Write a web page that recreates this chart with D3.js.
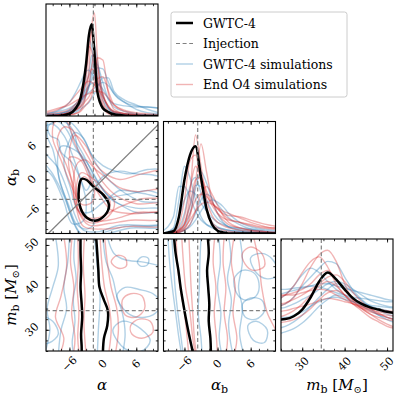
<!DOCTYPE html>
<html>
<head>
<meta charset="utf-8">
<script src="https://cdn.jsdelivr.net/npm/d3@7"></script>
<style>
body { margin: 0; background: #fff; }
text { font-family: "DejaVu Serif", serif; fill: #000; }
</style>
</head>
<body>
<div id="chart"></div>
<script>
// axis ranges, injection values, ticks
const alphaRange = [-10.2, 9.9];
const alphaBRange = [-9.8, 10.5];
const mbRange = [25, 51.4];
const injAlpha = -1.7, injAlphaB = -3.6, injMb = 34.5;
const alphaMajor = [-6, 0, 6];
const alphaBMajor = [-6, 0, 6];
const mbMajor = [30, 40, 50];
const tickLabelsA = ["\u22126", "0", "6"];
const tickLabelsM = ["30", "40", "50"];

// 1D marginals: alpha
const gridAlpha = [-10, -8, -6, -5, -4, -3, -2.5, -2, -1.5, -1, 0, 1, 2, 4, 6, 8, 10];
const alphaBlack = [0, 0, 0.02, 0.06, 0.16, 0.47, 0.72, 0.82, 0.56, 0.22, 0.07, 0.035, 0.015, 0.003, 0, 0, 0];
const alphaBlue = [
  [0.01, 0.02, 0.05, 0.08, 0.13, 0.22, 0.27, 0.32, 0.38, 0.43, 0.42, 0.3, 0.2, 0.12, 0.09, 0.08, 0.07],
  [0, 0.01, 0.03, 0.06, 0.12, 0.28, 0.38, 0.54, 0.52, 0.4, 0.18, 0.08, 0.04, 0.02, 0.01, 0.01, 0],
  [0, 0, 0.02, 0.05, 0.12, 0.38, 0.68, 0.62, 0.42, 0.26, 0.09, 0.04, 0.02, 0.01, 0, 0, 0],
  [0.02, 0.04, 0.07, 0.1, 0.14, 0.19, 0.21, 0.23, 0.25, 0.27, 0.3, 0.27, 0.2, 0.12, 0.06, 0.03, 0.02],
  [0.01, 0.02, 0.04, 0.07, 0.12, 0.2, 0.26, 0.36, 0.48, 0.46, 0.3, 0.15, 0.08, 0.04, 0.02, 0.01, 0.01],
  [0, 0.01, 0.02, 0.03, 0.06, 0.1, 0.12, 0.16, 0.2, 0.25, 0.34, 0.34, 0.22, 0.14, 0.1, 0.06, 0.03],
  [0.02, 0.05, 0.12, 0.2, 0.3, 0.4, 0.41, 0.38, 0.34, 0.28, 0.14, 0.06, 0.03, 0.01, 0, 0, 0],
  [0, 0.01, 0.02, 0.04, 0.08, 0.18, 0.26, 0.45, 0.62, 0.5, 0.2, 0.07, 0.03, 0.02, 0.01, 0, 0],
  [0.01, 0.02, 0.05, 0.1, 0.16, 0.24, 0.27, 0.29, 0.3, 0.29, 0.24, 0.15, 0.11, 0.09, 0.08, 0.08, 0.07]
];
const alphaRed = [
  [0, 0, 0.01, 0.02, 0.05, 0.2, 0.42, 0.8, 0.92, 0.55, 0.14, 0.04, 0.01, 0, 0, 0, 0],
  [0, 0, 0.01, 0.02, 0.04, 0.1, 0.13, 0.18, 0.3, 0.52, 0.5, 0.2, 0.06, 0.02, 0.01, 0, 0],
  [0, 0.01, 0.02, 0.05, 0.12, 0.35, 0.6, 0.75, 0.62, 0.35, 0.1, 0.03, 0.01, 0, 0, 0, 0],
  [0.03, 0.06, 0.12, 0.18, 0.24, 0.3, 0.31, 0.3, 0.28, 0.25, 0.17, 0.09, 0.04, 0.02, 0.01, 0, 0],
  [0.02, 0.03, 0.06, 0.1, 0.17, 0.3, 0.36, 0.42, 0.4, 0.34, 0.18, 0.08, 0.04, 0.02, 0.01, 0, 0],
  [0, 0.01, 0.03, 0.05, 0.09, 0.2, 0.28, 0.44, 0.55, 0.45, 0.2, 0.08, 0.03, 0.01, 0, 0, 0],
  [0.01, 0.01, 0.03, 0.05, 0.08, 0.14, 0.17, 0.22, 0.28, 0.33, 0.35, 0.22, 0.1, 0.04, 0.02, 0.01, 0],
  [0, 0.01, 0.04, 0.08, 0.16, 0.42, 0.62, 0.58, 0.4, 0.24, 0.08, 0.02, 0.01, 0, 0, 0, 0],
  [0.04, 0.07, 0.1, 0.13, 0.16, 0.19, 0.2, 0.21, 0.22, 0.22, 0.21, 0.16, 0.1, 0.05, 0.03, 0.02, 0.01]
];

// 1D marginals: alpha_b
const gridAlphaB = [-10, -8, -7, -6, -5, -4, -3, -2, -1, 0, 1, 2, 4, 6, 8, 10, 11];
const alphaBBlack = [0, 0.02, 0.15, 0.48, 0.7, 0.78, 0.5, 0.22, 0.08, 0.025, 0.01, 0, 0, 0, 0, 0, 0];
const alphaBBlue = [
  [0, 0.05, 0.3, 0.6, 0.5, 0.3, 0.15, 0.08, 0.05, 0.03, 0.02, 0.02, 0.01, 0.01, 0, 0, 0],
  [0.02, 0.15, 0.42, 0.42, 0.32, 0.2, 0.12, 0.08, 0.06, 0.05, 0.04, 0.03, 0.02, 0.01, 0.01, 0, 0],
  [0, 0, 0.02, 0.06, 0.18, 0.4, 0.55, 0.45, 0.3, 0.18, 0.1, 0.06, 0.03, 0.02, 0.01, 0, 0],
  [0, 0, 0.01, 0.03, 0.08, 0.18, 0.3, 0.35, 0.32, 0.26, 0.2, 0.14, 0.08, 0.04, 0.02, 0.01, 0.01],
  [0, 0.01, 0.03, 0.1, 0.25, 0.43, 0.42, 0.3, 0.2, 0.13, 0.09, 0.06, 0.04, 0.03, 0.02, 0.01, 0.01],
  [0, 0, 0.01, 0.03, 0.06, 0.12, 0.2, 0.27, 0.3, 0.28, 0.24, 0.18, 0.1, 0.06, 0.04, 0.03, 0.03],
  [0, 0.02, 0.06, 0.18, 0.42, 0.5, 0.36, 0.2, 0.1, 0.06, 0.04, 0.03, 0.02, 0.01, 0.01, 0, 0],
  [0, 0.04, 0.15, 0.3, 0.38, 0.35, 0.27, 0.2, 0.14, 0.1, 0.08, 0.06, 0.05, 0.04, 0.03, 0.02, 0.02]
];
const alphaBRed = [
  [0, 0, 0.02, 0.08, 0.35, 0.88, 0.6, 0.3, 0.16, 0.1, 0.07, 0.05, 0.03, 0.02, 0.01, 0.01, 0.01],
  [0, 0, 0.01, 0.04, 0.15, 0.45, 0.8, 0.55, 0.3, 0.18, 0.12, 0.08, 0.05, 0.03, 0.02, 0.01, 0.01],
  [0, 0.01, 0.04, 0.15, 0.4, 0.6, 0.5, 0.35, 0.25, 0.18, 0.14, 0.12, 0.1, 0.08, 0.06, 0.05, 0.05],
  [0, 0.01, 0.03, 0.08, 0.25, 0.48, 0.5, 0.38, 0.28, 0.22, 0.18, 0.16, 0.15, 0.12, 0.09, 0.07, 0.06],
  [0, 0.02, 0.08, 0.3, 0.65, 0.7, 0.45, 0.22, 0.1, 0.05, 0.03, 0.02, 0.01, 0, 0, 0, 0],
  [0, 0.01, 0.03, 0.08, 0.18, 0.3, 0.35, 0.33, 0.27, 0.22, 0.17, 0.13, 0.1, 0.07, 0.05, 0.04, 0.04],
  [0, 0, 0.01, 0.03, 0.08, 0.2, 0.35, 0.42, 0.35, 0.25, 0.16, 0.1, 0.05, 0.03, 0.02, 0.01, 0.01],
  [0, 0, 0.02, 0.05, 0.12, 0.2, 0.26, 0.28, 0.26, 0.23, 0.2, 0.18, 0.14, 0.1, 0.07, 0.05, 0.05]
];

// 1D marginals: m_b
const gridMb = [24, 26, 28, 30, 32, 34, 36, 38, 40, 42, 44, 46, 48, 50, 52];
const mbBlack = [0.28, 0.285, 0.31, 0.37, 0.48, 0.62, 0.7, 0.64, 0.55, 0.47, 0.42, 0.39, 0.37, 0.35, 0.34];
const mbBlue = [
  [0.4, 0.42, 0.48, 0.58, 0.66, 0.74, 0.8, 0.78, 0.66, 0.54, 0.46, 0.4, 0.36, 0.33, 0.31],
  [0.46, 0.5, 0.58, 0.68, 0.74, 0.7, 0.62, 0.55, 0.5, 0.46, 0.43, 0.41, 0.4, 0.39, 0.38],
  [0.5, 0.52, 0.54, 0.56, 0.58, 0.6, 0.6, 0.58, 0.56, 0.54, 0.52, 0.5, 0.48, 0.46, 0.45],
  [0.2, 0.22, 0.26, 0.32, 0.4, 0.48, 0.55, 0.6, 0.58, 0.52, 0.45, 0.38, 0.32, 0.28, 0.25],
  [0.38, 0.39, 0.42, 0.46, 0.5, 0.55, 0.6, 0.62, 0.6, 0.55, 0.5, 0.45, 0.42, 0.4, 0.39],
  [0.3, 0.3, 0.32, 0.35, 0.4, 0.44, 0.47, 0.48, 0.46, 0.44, 0.42, 0.4, 0.38, 0.36, 0.34],
  [0.55, 0.55, 0.56, 0.57, 0.58, 0.57, 0.55, 0.52, 0.5, 0.48, 0.47, 0.46, 0.45, 0.44, 0.44],
  [0.15, 0.17, 0.2, 0.25, 0.32, 0.4, 0.46, 0.5, 0.48, 0.44, 0.4, 0.36, 0.32, 0.3, 0.28]
];
const mbRed = [
  [0.4, 0.42, 0.48, 0.6, 0.75, 0.86, 0.9, 0.8, 0.6, 0.45, 0.38, 0.33, 0.3, 0.28, 0.27],
  [0.45, 0.5, 0.58, 0.7, 0.8, 0.84, 0.75, 0.6, 0.5, 0.42, 0.38, 0.35, 0.33, 0.32, 0.31],
  [0.3, 0.32, 0.36, 0.42, 0.5, 0.58, 0.62, 0.58, 0.5, 0.42, 0.36, 0.3, 0.26, 0.22, 0.2],
  [0.5, 0.5, 0.5, 0.52, 0.54, 0.55, 0.54, 0.5, 0.46, 0.42, 0.4, 0.38, 0.37, 0.36, 0.35],
  [0.25, 0.26, 0.28, 0.32, 0.38, 0.46, 0.52, 0.54, 0.5, 0.44, 0.38, 0.33, 0.28, 0.24, 0.21],
  [0.42, 0.43, 0.46, 0.5, 0.55, 0.6, 0.66, 0.68, 0.62, 0.52, 0.44, 0.38, 0.34, 0.3, 0.28],
  [0.35, 0.36, 0.38, 0.4, 0.42, 0.45, 0.47, 0.46, 0.44, 0.42, 0.39, 0.36, 0.33, 0.3, 0.28],
  [0.48, 0.5, 0.52, 0.55, 0.6, 0.68, 0.72, 0.64, 0.54, 0.46, 0.4, 0.37, 0.35, 0.34, 0.34]
];

// 2D contours: alpha (x) vs alpha_b (y), closed loops
const aAbBlack = [[-3.8, 0.1], [-4.3, -1.6], [-4.0, -5.2], [-2.8, -7.0], [-1.4, -7.5], [0.4, -6.45], [1.1, -4.6], [0.1, -2.8], [-1.7, -1.3], [-2.9, -0.1]];
const aAbRed = [
  [[-3.4, 0.5], [-4.2, -1.8], [-3.8, -5.4], [-2.4, -7.2], [-0.8, -7.3], [0.9, -5.8], [1.3, -4.0], [0.0, -2.5], [-1.8, -0.8]],
  [[-3.9, 1.2], [-4.8, -2.0], [-4.3, -5.8], [-2.5, -7.8], [-0.2, -7.5], [1.8, -5.6], [2.0, -3.8], [0.5, -2.2], [-1.6, 0.0]],
  [[-7.0, 9.5], [-8.2, 7.0], [-6.5, 2.5], [-5.0, -2.0], [-4.3, -6.0], [-2.5, -8.3], [1.0, -8.0], [5.0, -7.4], [11, -7.0], [11, -4.5], [6.0, -4.4], [2.5, -3.0], [0.0, -0.5], [-2.0, 3.0], [-4.0, 6.5], [-5.5, 9.0]],
  [[-5.0, 8.0], [-6.0, 5.0], [-5.2, 1.0], [-4.6, -3.0], [-3.5, -6.5], [-1.0, -7.0], [3.0, -5.0], [7.0, -3.5], [11, -3.0], [11, 1.5], [7.0, 1.0], [3.0, 0.0], [0.5, 1.0], [-1.5, 3.0], [-3.0, 6.0]],
  [[-6.0, 4.0], [-5.5, -1.0], [-4.8, -5.0], [-3.5, -8.5], [0.0, -9.0], [5.0, -8.5], [11, -8.3], [11, -6.2], [5.0, -6.2], [1.5, -5.5], [-0.5, -3.0], [-2.5, 0.5], [-4.0, 3.5]],
  [[-8.5, 10.5], [-9.0, 7.5], [-7.5, 3.5], [-5.5, -1.5], [-3.8, -4.5], [-2.0, -4.2], [-1.5, -1.5], [-3.0, 2.5], [-5.0, 6.5], [-6.5, 10.5]],
  [[-4.5, 3.0], [-5.3, -1.5], [-4.5, -5.5], [-2.0, -7.5], [2.0, -7.2], [6.0, -6.0], [11, -5.5], [11, -2.0], [6.0, -2.2], [3.0, -1.5], [1.0, 0.0], [-1.5, 2.0], [-3.0, 3.5]]
];
const aAbBlue = [
  [[-11, 11], [-11, 4.0], [-9.0, 1.0], [-7.0, -3.0], [-5.5, -7.0], [-4.0, -9.8], [-2.0, -10.5], [1.0, -9.8], [5.0, -8.8], [11, -8.5], [11, -6.3], [6.0, -6.0], [3.0, -4.5], [0.5, -2.5], [-1.5, 0.5], [-3.5, 4.5], [-5.5, 8.0], [-7.0, 11]],
  [[-10.5, 11], [-11, 6.0], [-8.0, 2.0], [-6.2, -2.5], [-5.0, -6.5], [-3.5, -9.2], [-1.0, -9.5], [3.0, -8.3], [11, -7.8], [11, -4.5], [7.0, -4.0], [4.0, -2.5], [1.5, -0.5], [-1.0, 2.5], [-3.0, 6.5], [-4.5, 9.0], [-6.0, 10.5], [-8.5, 11]],
  [[-9.5, 10.0], [-10.0, 8.0], [-9.0, 5.5], [-8.3, 2.5], [-7.5, -1.0], [-6.0, -5.0], [-4.8, -8.0], [-3.0, -9.0], [-1.5, -8.0], [-2.0, -5.5], [-1.8, -2.5], [0.0, 0.5], [3.0, 1.5], [6.0, 1.0], [9.0, 0.8], [11, 0.0], [11, -3.0], [7.0, -2.5], [3.0, -2.0], [0.5, -3.5], [-1.0, -1.0], [-3.0, 2.5], [-5.0, 6.0], [-6.5, 9.0], [-8.0, 10.5]],
  [[-6.0, 7.0], [-7.0, 3.0], [-5.8, -1.5], [-4.5, -5.5], [-2.5, -6.0], [1.0, -3.5], [5.0, -2.6], [8.0, -2.0], [11, -2.5], [11, 1.5], [8.0, 1.8], [5.0, 1.0], [2.0, 1.6], [0.0, 2.5], [-2.0, 4.5], [-3.5, 7.5], [-5.0, 8.5]],
  [[-7.5, 6.0], [-8.0, 1.0], [-6.5, -4.0], [-4.5, -9.3], [-2.5, -10.5], [0.5, -9.5], [4.0, -8.5], [11, -8.0], [11, -5.5], [6.0, -5.2], [2.0, -4.0], [-0.5, -1.0], [-2.5, 2.5], [-4.5, 5.0]],
  [[-11, 3.0], [-9.0, 0.5], [-7.0, -4.0], [-5.5, -8.0], [-3.5, -7.5], [-3.0, -4.0], [-4.0, 0.0], [-5.5, 4.5], [-7.0, 8.0], [-9.0, 10.0], [-11, 9.0]],
  [[-9.8, 10.5], [-9.5, 8.0], [-8.0, 7.2], [-7.5, 5.0], [-5.5, 3.0], [-4.2, 0.5], [-3.0, -2.0], [-2.2, -0.5], [-3.0, 2.5], [-4.5, 5.5], [-5.0, 8.0], [-6.0, 9.8], [-8.0, 10.8]]
];

// 2D contours: alpha (x) vs m_b (y); open lines and small loops
const aMbBlack = [
  [[-4.0, 52], [-4.0, 48], [-3.9, 44], [-4.0, 40], [-3.8, 36], [-3.7, 33], [-3.9, 29], [-3.8, 26], [-3.8, 24]],
  [[-1.2, 52], [-1.0, 48], [-0.8, 44], [-0.6, 40], [0.2, 37], [0.9, 34.5], [0.8, 31], [0.2, 28], [0.0, 24]]
];
const aMbRedLines = [
  [[-4.5, 52], [-4.4, 46], [-4.6, 40], [-4.3, 34], [-4.5, 28], [-4.2, 24]],
  [[-5.5, 52], [-5.8, 46], [-5.2, 40], [-5.6, 34], [-5.0, 28], [-5.3, 24]],
  [[-7.0, 52], [-6.5, 45], [-7.5, 38], [-8.5, 33], [-7.0, 28], [-7.8, 24]],
  [[-0.5, 52], [-0.2, 46], [0.3, 40], [1.2, 35], [1.5, 30], [1.0, 24]],
  [[0.3, 52], [0.8, 46], [1.5, 40], [2.5, 35], [2.8, 30], [2.2, 24]],
  [[-3.3, 52], [-3.5, 45], [-3.2, 38], [-3.4, 32], [-3.0, 24]]
];
const aMbRedLoops = [
  [[3.5, 37], [5, 38.5], [7, 38], [7.5, 35], [6, 33], [4, 33.5]],
  [[5, 31], [6.5, 32.5], [8.5, 32], [9, 29.5], [7, 28], [5.2, 29]],
  [[1.5, 46], [2.5, 47.5], [4, 47], [4.2, 45], [2.8, 44.5]]
];
const aMbBlueLines = [
  [[-6.0, 52], [-6.3, 46], [-7.0, 40], [-6.5, 35], [-7.5, 30], [-8.0, 24]],
  [[-8.5, 52], [-8.0, 45], [-9.0, 40], [-10.0, 35], [-9.5, 30], [-10.5, 24]],
  [[-5.0, 52], [-5.2, 47], [-4.8, 42], [-5.3, 37], [-5.0, 32], [-5.5, 27], [-5.2, 24]],
  [[0.0, 52], [0.6, 46], [1.8, 42], [2.5, 38], [3.5, 34], [4.0, 29], [3.5, 24]],
  [[0.8, 52], [2.0, 48], [4.0, 46.5], [7.0, 46], [10.5, 45]],
  [[-1.5, 52], [-1.0, 45], [-0.5, 38], [-0.8, 30], [-1.0, 24]]
];
const aMbBlueLoops = [
  [[6.2, 46], [7.0, 47.2], [8.2, 46.8], [8.0, 45.3], [6.8, 45]],
  [[2.5, 38], [4, 40], [6.5, 39.5], [9, 38.5], [10.5, 36], [9, 33.5], [6, 33], [4, 34.5]],
  [[1.8, 30], [3.5, 32], [6, 31], [8.5, 27.5], [7, 25], [4, 25.5]],
  [[-11, 33], [-9.0, 32], [-8.0, 29], [-9.5, 27], [-11, 27]]
];

// 2D contours: alpha_b (x) vs m_b (y)
const abMbBlack = [
  [[-7.9, 52], [-7.6, 48], [-7.1, 44], [-6.7, 40], [-6.2, 36], [-5.8, 33], [-5.2, 29], [-4.7, 26], [-4.4, 24]],
  [[-1.8, 52], [-1.6, 48], [-1.9, 44], [-1.7, 40], [-1.5, 36], [-1.6, 32], [-1.3, 28], [-1.2, 24]]
];
const abMbRedLines = [
  [[-6.5, 52], [-6.2, 46], [-5.8, 40], [-5.0, 34], [-4.5, 28], [-4.0, 24]],
  [[-5.2, 52], [-5.0, 46], [-4.8, 40], [-4.5, 34], [-4.2, 28], [-3.8, 24]],
  [[-7.5, 52], [-7.3, 46], [-6.8, 40], [-6.0, 34], [-5.5, 28], [-5.2, 24]],
  [[-0.5, 52], [-0.8, 46], [-0.3, 40], [-0.6, 34], [-0.2, 28], [0.0, 24]],
  [[1.2, 52], [1.0, 46], [1.5, 40], [1.2, 34], [1.8, 28], [1.5, 24]],
  [[3.0, 52], [2.5, 46], [3.2, 40], [2.8, 34], [3.5, 28], [3.0, 24]],
  [[6.5, 52], [7.5, 46], [8.0, 40], [9.0, 34], [10.5, 30], [11, 28]]
];
const abMbRedLoops = [
  [[4.5, 48], [6, 49.5], [8, 48], [8.5, 45], [6.5, 44], [5, 45.5]]
];
const abMbBlueLines = [
  [[-9.0, 52], [-8.7, 46], [-8.2, 40], [-7.6, 34], [-7.0, 28], [-6.5, 24]],
  [[-8.3, 52], [-8.0, 46], [-7.7, 40], [-7.2, 34], [-6.6, 28], [-6.2, 24]],
  [[-3.0, 52], [-3.2, 46], [-3.3, 40], [-3.5, 34], [-3.0, 28], [-2.8, 24]],
  [[0.2, 52], [0.5, 46], [0.0, 40], [0.6, 34], [0.3, 28], [0.8, 24]],
  [[2.0, 52], [2.4, 47], [1.8, 42], [2.5, 37], [2.0, 31], [2.8, 24]],
  [[4.0, 52], [4.5, 46], [3.8, 40], [4.5, 35], [4.0, 29], [4.8, 24]]
];
const abMbBlueLoops = [
  [[3.0, 42], [4.5, 44], [6.5, 43.5], [7.5, 41], [7.0, 38], [5.0, 37], [3.5, 38.5]],
  [[4.5, 36], [6.0, 37.5], [8.0, 37], [8.5, 34.5], [7.0, 32.5], [5.0, 33]],
  [[6.0, 47], [8, 48], [10, 46.5], [11, 43], [9, 42], [7, 43.5]],
  [[5.5, 31], [7, 32], [9, 30], [8.5, 27], [6.5, 27.5]]
];

const legendLabels = ["GWTC-4", "Injection", "GWTC-4 simulations", "End O4 simulations"];

// layout
const S = 112;
const colX = [46, 163.5, 281];
const rowY = [4, 121.5, 239];
const ranges = [alphaRange, alphaBRange, mbRange];
const majors = [alphaMajor, alphaBMajor, mbMajor];
const minorStep = [1.5, 1.5, 2.5];
const labels = [tickLabelsA, tickLabelsA, tickLabelsM];
const injs = [injAlpha, injAlphaB, injMb];

const blue = "#1f77b4", red = "#d62728", simOpacity = 0.35, simWidth = 1.4;

const svg = d3.select("#chart").append("svg")
    .attr("width", 400).attr("height", 400);

const xs = ranges.map((r, j) => d3.scaleLinear().domain(r).range([colX[j], colX[j] + S]));
const ys = ranges.map((r, i) => d3.scaleLinear().domain(r).range([rowY[i] + S, rowY[i]]));
const yd = [0, 1, 2].map(i => d3.scaleLinear().domain([0, 1]).range([rowY[i] + S, rowY[i]]));

function minorTicks(k) {
    const [lo, hi] = ranges[k];
    return d3.range(Math.ceil(lo / minorStep[k]) * minorStep[k], hi, minorStep[k]);
}

function panelGroup(i, j) {
    const id = `clip${i}${j}`;
    svg.append("clipPath").attr("id", id)
        .append("rect").attr("x", colX[j]).attr("y", rowY[i]).attr("width", S).attr("height", S);
    return svg.append("g").attr("clip-path", `url(#${id})`);
}

function drawTicks(i, j, oneD) {
    const x = xs[j], y = ys[i];
    const g = svg.append("g");
    const sets = [[minorTicks(j), 2.2], [majors[j], 3.5]];
    sets.forEach(([vals, len]) => {
        g.append("g").attr("transform", `translate(0,${rowY[i] + S})`)
            .call(d3.axisBottom(x).tickValues(vals).tickSize(-len).tickFormat(""));
        g.append("g").attr("transform", `translate(0,${rowY[i]})`)
            .call(d3.axisTop(x).tickValues(vals).tickSize(-len).tickFormat(""));
    });
    if (!oneD) {
        [[minorTicks(i), 2.2], [majors[i], 3.5]].forEach(([vals, len]) => {
            g.append("g").attr("transform", `translate(${colX[j]},0)`)
                .call(d3.axisLeft(y).tickValues(vals).tickSize(-len).tickFormat(""));
            g.append("g").attr("transform", `translate(${colX[j] + S},0)`)
                .call(d3.axisRight(y).tickValues(vals).tickSize(-len).tickFormat(""));
        });
    }
    g.selectAll(".domain").remove();
    g.selectAll(".tick line").attr("stroke", "#000").attr("stroke-width", 0.8);
    svg.append("rect").attr("x", colX[j]).attr("y", rowY[i]).attr("width", S).attr("height", S)
        .attr("fill", "none").attr("stroke", "#000").attr("stroke-width", 1.1);
}

function injLines(g, i, j, oneD) {
    const dash = "4,2.6";
    g.append("line").attr("x1", xs[j](injs[j])).attr("x2", xs[j](injs[j]))
        .attr("y1", rowY[i]).attr("y2", rowY[i] + S)
        .attr("stroke", "#808080").attr("stroke-width", 1.2).attr("stroke-dasharray", dash);
    if (!oneD) {
        g.append("line").attr("y1", ys[i](injs[i])).attr("y2", ys[i](injs[i]))
            .attr("x1", colX[j]).attr("x2", colX[j] + S)
            .attr("stroke", "#808080").attr("stroke-width", 1.2).attr("stroke-dasharray", dash);
    }
}

// 1D panels
const oneD = [
    [gridAlpha, alphaBlue, alphaRed, alphaBlack],
    [gridAlphaB, alphaBBlue, alphaBRed, alphaBBlack],
    [gridMb, mbBlue, mbRed, mbBlack]
];
oneD.forEach(([grid, bl, rd, bk], k) => {
    const g = panelGroup(k, k);
    const line = d3.line().x((v, n) => xs[k](grid[n])).y(v => yd[k](v)).curve(d3.curveMonotoneX);
    bl.forEach(c => g.append("path").attr("d", line(c)).attr("fill", "none")
        .attr("stroke", blue).attr("stroke-opacity", simOpacity).attr("stroke-width", simWidth));
    rd.forEach(c => g.append("path").attr("d", line(c)).attr("fill", "none")
        .attr("stroke", red).attr("stroke-opacity", simOpacity).attr("stroke-width", simWidth));
    g.append("path").attr("d", line(bk)).attr("fill", "none")
        .attr("stroke", "#000").attr("stroke-width", 2.5);
    injLines(g, k, k, true);
    drawTicks(k, k, true);
});

// 2D panels
const twoD = [
    [1, 0, [], aAbBlue, [], aAbRed, [], [aAbBlack]],
    [2, 0, aMbBlueLines, aMbBlueLoops, aMbRedLines, aMbRedLoops, aMbBlack, []],
    [2, 1, abMbBlueLines, abMbBlueLoops, abMbRedLines, abMbRedLoops, abMbBlack, []]
];
twoD.forEach(([i, j, bLines, bLoops, rLines, rLoops, kLines, kLoops]) => {
    const g = panelGroup(i, j);
    const open = d3.line().x(d => xs[j](d[0])).y(d => ys[i](d[1])).curve(d3.curveCatmullRom.alpha(0.5));
    const closed = d3.line().x(d => xs[j](d[0])).y(d => ys[i](d[1])).curve(d3.curveCatmullRomClosed.alpha(0.5));
    const draw = (arr, gen, color, op, w) => arr.forEach(c => g.append("path").attr("d", gen(c))
        .attr("fill", "none").attr("stroke", color).attr("stroke-opacity", op).attr("stroke-width", w)
        .attr("stroke-linejoin", "round"));
    draw(bLines, open, blue, simOpacity, simWidth);
    draw(bLoops, closed, blue, simOpacity, simWidth);
    draw(rLines, open, red, simOpacity, simWidth);
    draw(rLoops, closed, red, simOpacity, simWidth);
    draw(kLines, open, "#000", 1, 2.5);
    draw(kLoops, closed, "#000", 1, 2.5);
    injLines(g, i, j, false);
    if (i === 1 && j === 0) {
        g.append("line").attr("x1", xs[0](-12)).attr("y1", ys[1](-12))
            .attr("x2", xs[0](12)).attr("y2", ys[1](12))
            .attr("stroke", "#808080").attr("stroke-width", 1.3);
    }
    drawTicks(i, j, false);
});

// tick labels
[0, 1, 2].forEach(j => {
    majors[j].forEach((v, n) => {
        svg.append("text")
            .attr("transform", `translate(${xs[j](v)},${rowY[2] + S + 13}) rotate(-45)`)
            .attr("text-anchor", "middle").attr("dominant-baseline", "central")
            .style("font-size", "11px").text(labels[j][n]);
    });
});
[1, 2].forEach(i => {
    majors[i].forEach((v, n) => {
        svg.append("text")
            .attr("transform", `translate(${colX[0] - 14},${ys[i](v)}) rotate(-45)`)
            .attr("text-anchor", "middle").attr("dominant-baseline", "central")
            .style("font-size", "11px").text(labels[i][n]);
    });
});

// axis labels
function mathLabel(sel, kind) {
    if (kind === 0) {
        sel.append("tspan").style("font-style", "italic").text("\u03b1");
    } else if (kind === 1) {
        sel.append("tspan").style("font-style", "italic").text("\u03b1");
        sel.append("tspan").attr("baseline-shift", "-25%").style("font-size", "11px").text("b");
    } else {
        sel.append("tspan").style("font-style", "italic").text("m");
        sel.append("tspan").attr("baseline-shift", "-25%").style("font-size", "11px").text("b");
        sel.append("tspan").text(" [");
        sel.append("tspan").style("font-style", "italic").text("M");
        sel.append("tspan").attr("baseline-shift", "-25%").style("font-size", "10px").text("\u2299");
        sel.append("tspan").text("]");
    }
}
[0, 1, 2].forEach(j => {
    const t = svg.append("text").attr("x", colX[j] + S / 2).attr("y", 390)
        .attr("text-anchor", "middle").style("font-size", "15px");
    mathLabel(t, j);
});
[1, 2].forEach(i => {
    const t = svg.append("text")
        .attr("transform", `translate(16,${rowY[i] + S / 2}) rotate(-90)`)
        .attr("text-anchor", "middle").style("font-size", "15px");
    mathLabel(t, i);
});

// legend
const lg = svg.append("g");
lg.append("rect").attr("x", 171).attr("y", 12).attr("width", 176).attr("height", 85)
    .attr("rx", 2.5).attr("fill", "#fff").attr("fill-opacity", 0.8)
    .attr("stroke", "#cccccc").attr("stroke-width", 1);
const legendStyles = [
    {color: "#000", op: 1, w: 2.5, dash: null},
    {color: "#808080", op: 1, w: 1.2, dash: "4,2.6"},
    {color: blue, op: 0.35, w: 1.4, dash: null},
    {color: red, op: 0.35, w: 1.4, dash: null}
];
legendLabels.forEach((name, n) => {
    const yy = 23 + n * 20.5;
    const st = legendStyles[n];
    lg.append("line").attr("x1", 176).attr("x2", 193).attr("y1", yy).attr("y2", yy)
        .attr("stroke", st.color).attr("stroke-opacity", st.op).attr("stroke-width", st.w)
        .attr("stroke-dasharray", st.dash);
    lg.append("text").attr("x", 203).attr("y", yy).attr("dominant-baseline", "central")
        .style("font-size", "12.5px").text(name);
});
</script>
</body>
</html>
